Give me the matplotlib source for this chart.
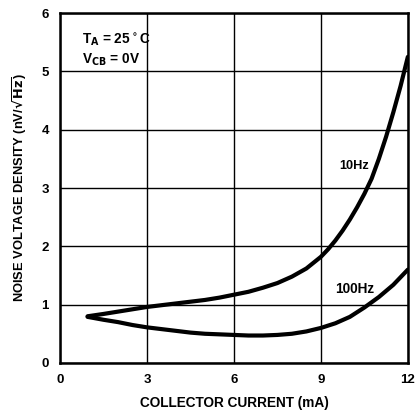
import matplotlib.pyplot as plt

# collector current (mA) vs noise voltage density (nV/rtHz)
current_10hz = [0.95, 1.5, 2, 2.5, 3, 3.5, 4, 4.5, 5, 5.5, 6, 6.5, 7, 7.5, 8, 8.5, 9,
                9.25, 9.5, 9.75, 10, 10.25, 10.5, 10.75, 11, 11.25, 11.5, 11.75, 12]
noise_10hz = [0.80, 0.84, 0.88, 0.92, 0.96, 0.99, 1.02, 1.05, 1.08, 1.12, 1.17, 1.22, 1.29,
              1.37, 1.48, 1.62, 1.82, 1.95, 2.1, 2.27, 2.46, 2.67, 2.9, 3.16, 3.5, 3.88,
              4.3, 4.75, 5.25]

current_100hz = [0.95, 1.5, 2, 2.5, 3, 3.5, 4, 4.5, 5, 5.5, 6, 6.5, 7, 7.5, 8, 8.5, 9,
                 9.5, 10, 10.5, 11, 11.5, 12]
noise_100hz = [0.79, 0.74, 0.70, 0.65, 0.61, 0.58, 0.55, 0.52, 0.50, 0.49, 0.48, 0.47,
               0.47, 0.48, 0.50, 0.54, 0.60, 0.68, 0.79, 0.95, 1.13, 1.34, 1.60]

x_ticks = [0, 3, 6, 9, 12]
y_ticks = [0, 1, 2, 3, 4, 5, 6]

plt.rcParams["font.family"] = ["Liberation Sans", "DejaVu Sans"]
plt.rcParams["font.weight"] = "bold"

fig = plt.figure(figsize=(4.17, 4.11), dpi=100)
ax = fig.add_axes([0.144, 0.117, 0.834, 0.851])

ax.plot(current_10hz, noise_10hz, color="black", linewidth=3.0,
        solid_capstyle="round", solid_joinstyle="round")
ax.plot(current_100hz, noise_100hz, color="black", linewidth=3.0,
        solid_capstyle="round", solid_joinstyle="round")

ax.set_xlim(0, 12)
ax.set_ylim(0, 6)
ax.set_xticks(x_ticks)
ax.set_yticks(y_ticks)
ax.tick_params(length=0, labelsize=9.5, pad=8)
for label in ax.get_xticklabels() + ax.get_yticklabels():
    label.set_fontweight("bold")

ax.grid(True, color="black", linewidth=1.0)
for spine in ax.spines.values():
    spine.set_linewidth(1.8)

ax.set_xlabel("COLLECTOR CURRENT (mA)", fontsize=9.8, fontweight="bold", labelpad=7)
ax.set_ylabel(r"NOISE VOLTAGE DENSITY (nV/$\sqrt{\mathbf{Hz}}$)", fontsize=9.3,
              fontweight="bold", labelpad=9)

ax.text(0.75, 5.54, r"T$_\mathbf{A}$ = 25$^\circ$C", fontsize=9.8, fontweight="bold", va="center")
ax.text(0.75, 5.2, r"V$_\mathbf{CB}$ = 0V", fontsize=9.8, fontweight="bold", va="center")
ax.text(9.62, 3.38, "10Hz", fontsize=9.2, fontweight="bold", va="center")
ax.text(9.5, 1.27, "100Hz", fontsize=9.8, fontweight="bold", va="center")

fig.savefig("out.png", dpi=100)
